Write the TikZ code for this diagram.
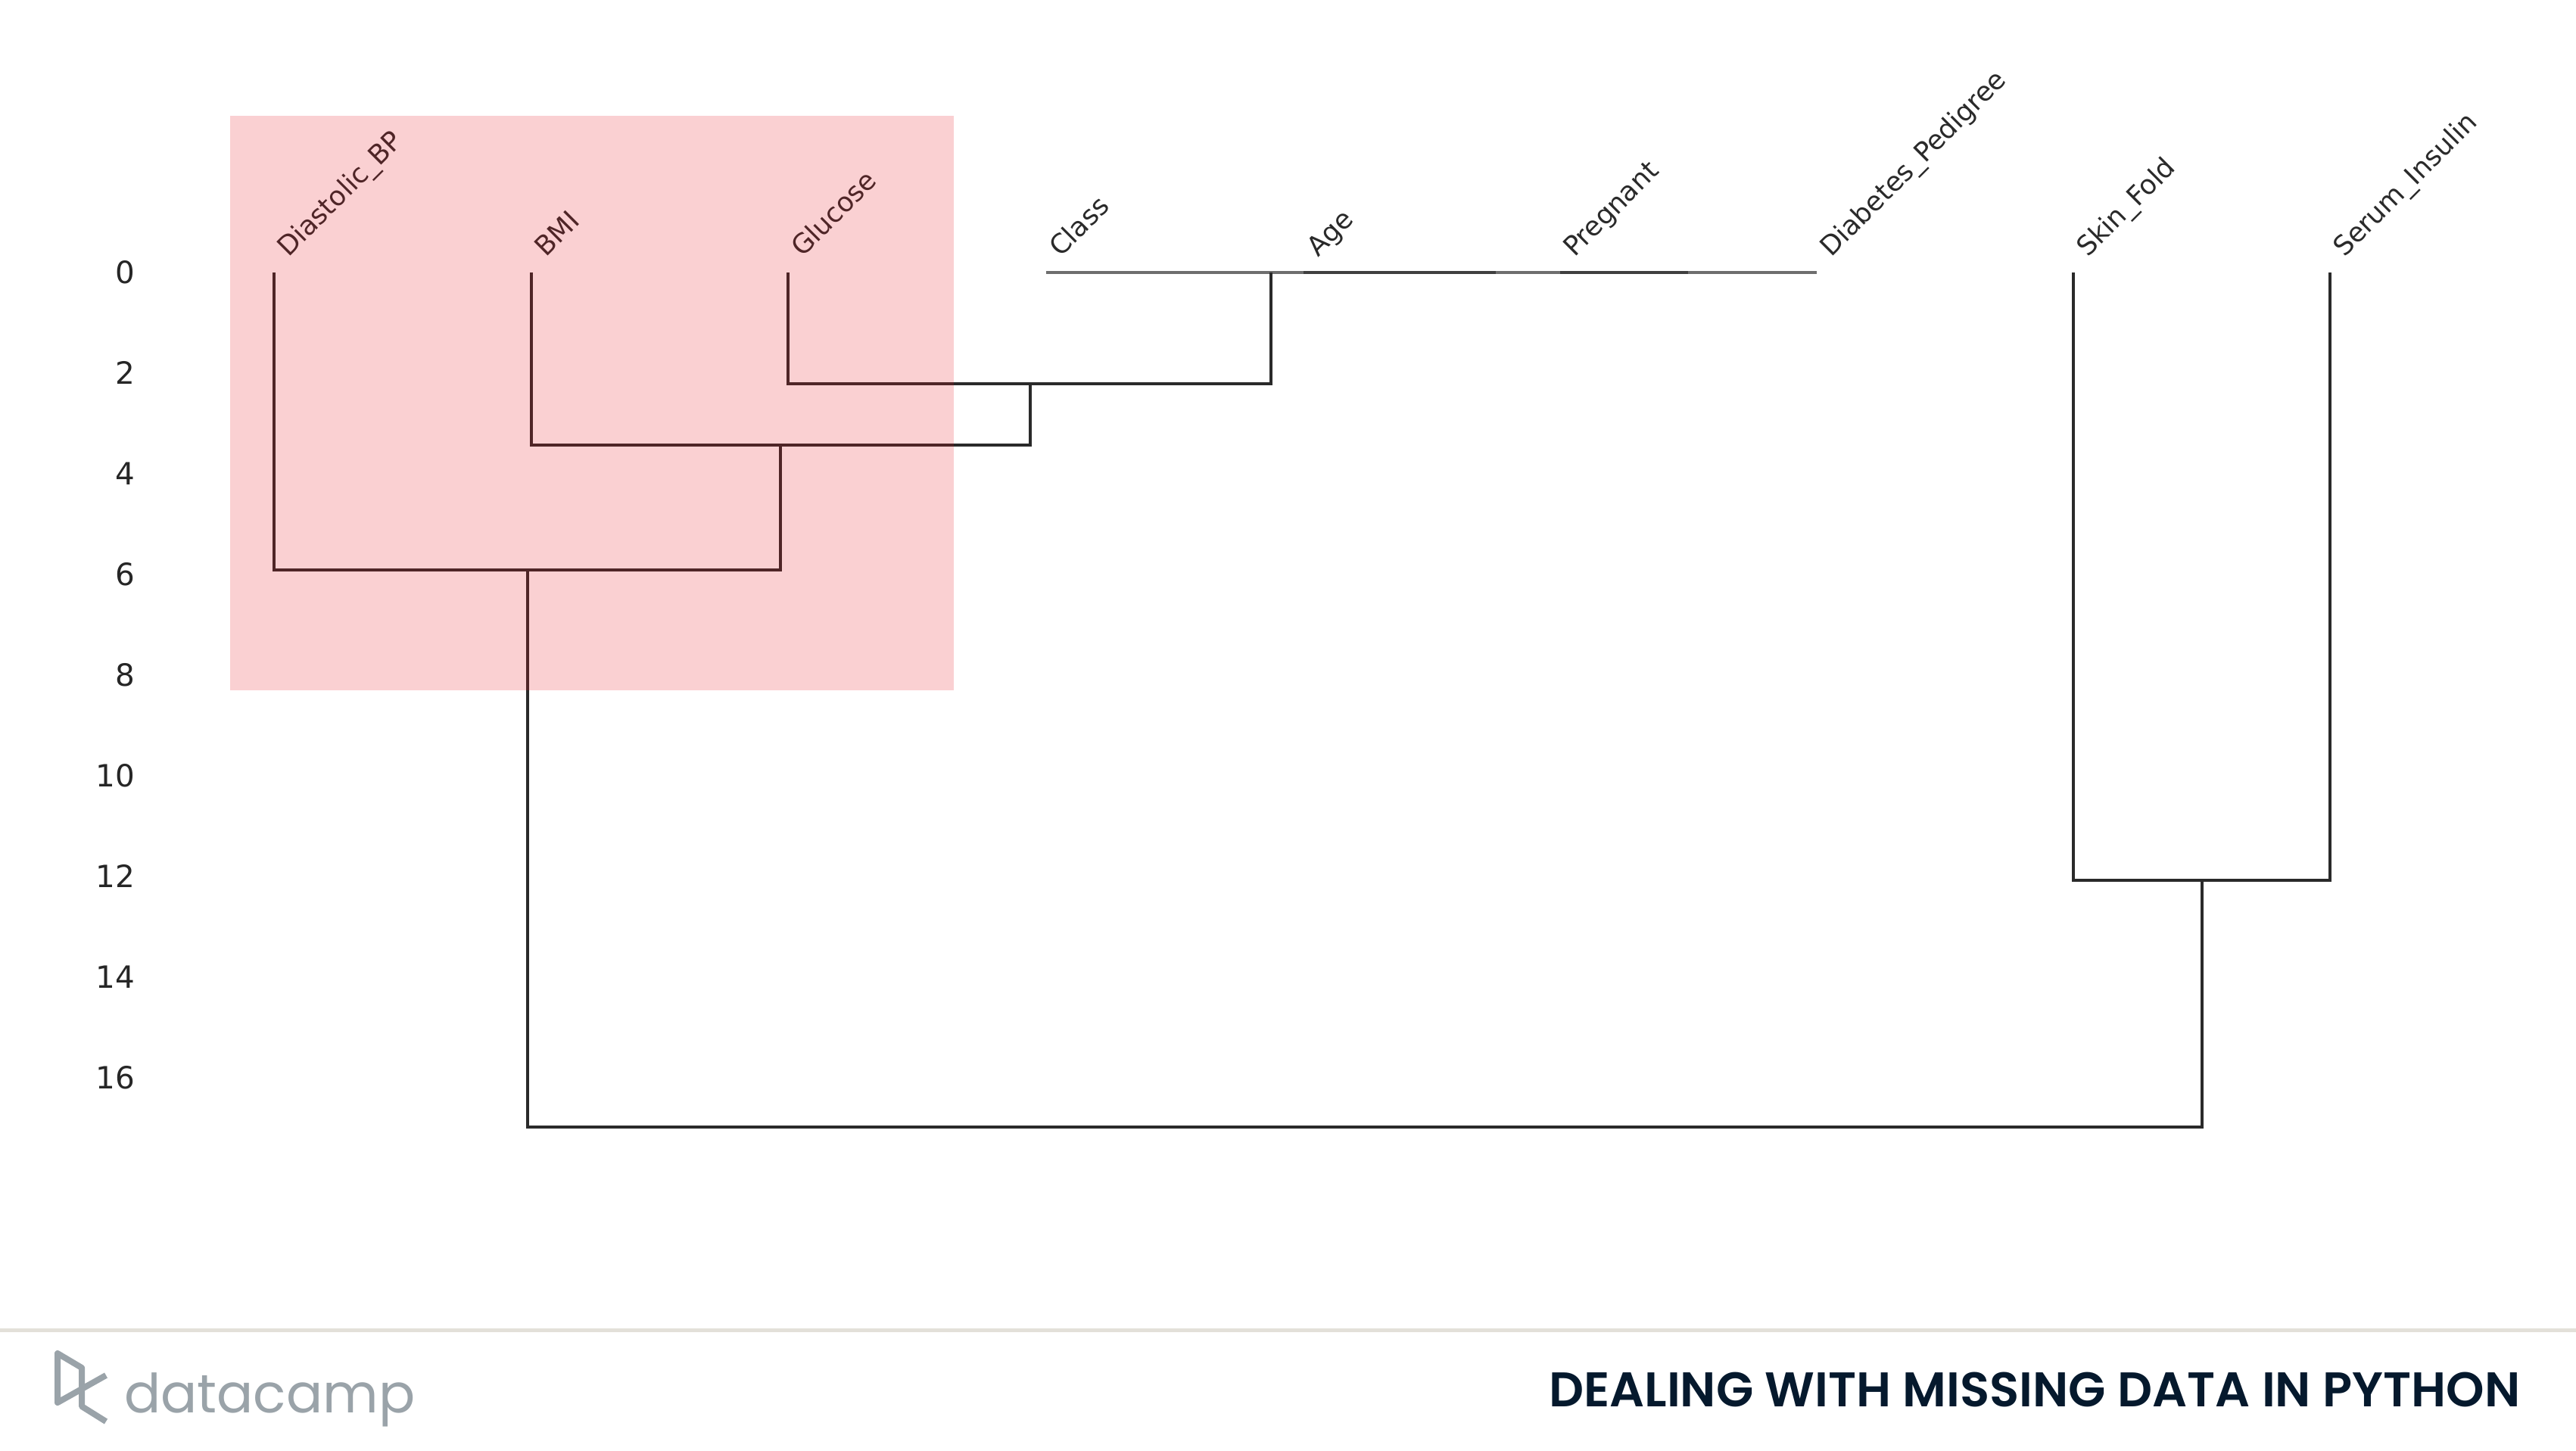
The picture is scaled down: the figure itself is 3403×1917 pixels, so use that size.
\documentclass[tikz,border=0pt]{standalone}
\usepackage{fontspec}
\setmainfont{DejaVu Sans}
\newfontfamily\wordfont{Poppins}
\newfontfamily\titlefont{Poppins SemiBold}
\definecolor{linkc}{HTML}{2A2A2A}
\definecolor{tickc}{HTML}{262626}
\definecolor{footc}{HTML}{E3E0D9}
\definecolor{logoc}{HTML}{9AA3A9}
\definecolor{titlec}{HTML}{05192D}
\definecolor{hilite}{RGB}{230,20,30}
\tikzset{
  leaf/.style={rotate=45,anchor=base west,inner sep=0pt,font=\fontsize{35.5}{36}\selectfont,text=linkc},
  tick/.style={anchor=base east,inner sep=0pt,font=\fontsize{40.5}{41}\selectfont,text=tickc},
  link/.style={draw=linkc,line width=3.8pt,line cap=butt,line join=miter},
  flat/.style={draw=linkc,line width=3.4pt,draw opacity=.68},
  logoline/.style={draw=logoc,line width=8pt,line join=round},
}
\begin{document}
\begin{tikzpicture}[x=1pt,y=-1pt]
\useasboundingbox[fill=white] (0,0) rectangle (3403,1917);
% leaves
\coordinate (dia) at (362,360);
\coordinate (bmi) at (702,360);
\coordinate (glu) at (1041,360);
\coordinate (cla) at (1382,360);
\coordinate (age) at (1722,360);
\coordinate (pre) at (2061,360);
\coordinate (dpf) at (2400,360);
\coordinate (ski) at (2739,360);
\coordinate (ser) at (3078,360);
\node[leaf] (ldia) at (381,341) {Diastolic\_BP};
\node[leaf] (lbmi) at (721,341) {BMI};
\node[leaf] (lglu) at (1060,341) {Glucose};
\node[leaf] (lcla) at (1401,341) {Class};
\node[leaf] (lage) at (1741,341) {Age};
\node[leaf] (lpre) at (2080,341) {Pregnant};
\node[leaf] (ldpf) at (2419,341) {Diabetes\_Pedigree};
\node[leaf] (lski) at (2758,341) {Skin\_Fold};
\node[leaf] (lser) at (3097,341) {Serum\_Insulin};
% flat links at height zero
\coordinate (aend) at (1976,360);
\coordinate (bend) at (2230,360);
\path[flat] (cla) -- (aend);
\path[flat] (age) -- (bend);
\path[flat] (pre) -- (dpf);
% merges
\coordinate (m1) at (1679,360);
\coordinate (m1b) at (1679,507);
\coordinate (g1) at (1041,507);
\coordinate (m2t) at (1361,507);
\coordinate (m2b) at (1361,588);
\coordinate (b1) at (702,588);
\coordinate (m3t) at (1031,588);
\coordinate (m3b) at (1031,753);
\coordinate (d1) at (362,753);
\coordinate (m4t) at (697,753);
\coordinate (m4b) at (697,1489);
\coordinate (s1) at (2739,1163);
\coordinate (s2) at (3078,1163);
\coordinate (m5t) at (2909,1163);
\coordinate (m5b) at (2909,1489);
\path[link] (glu) -- (g1) -- (m1b) -- (m1);
\path[link] (bmi) -- (b1) -- (m2b) -- (m2t);
\path[link] (dia) -- (d1) -- (m3b) -- (m3t);
\path[link] (ski) -- (s1) -- (s2) -- (ser);
\path[link] (m4t) -- (m4b) -- (m5b) -- (m5t);
% highlight
\fill[hilite,fill opacity=.2] (304,153) rectangle (1260,912);
% y axis
\node[tick] (t0) at (178,374) {0};
\node[tick] (t2) at (178,507) {2};
\node[tick] (t4) at (178,640) {4};
\node[tick] (t6) at (178,773) {6};
\node[tick] (t8) at (178,906) {8};
\node[tick] (t10) at (178,1039) {10};
\node[tick] (t12) at (178,1172) {12};
\node[tick] (t14) at (178,1305) {14};
\node[tick] (t16) at (178,1438) {16};
% footer
\fill[footc] (0,1754.5) rectangle (3403,1759.5);
\path[logoline] (140,1878) -- (108,1858) -- (108,1807) -- (76,1788) -- (76,1853) -- (140,1817);
\node[anchor=base west,inner sep=0pt,text=logoc] (word) at (164,1866) {\resizebox{384pt}{!}{\wordfont datacamp}};
\node[anchor=base west,inner sep=0pt,text=titlec] (title) at (2046,1858) {\resizebox{1283pt}{!}{\titlefont DEALING WITH MISSING DATA IN PYTHON}};
\end{tikzpicture}
\end{document}
